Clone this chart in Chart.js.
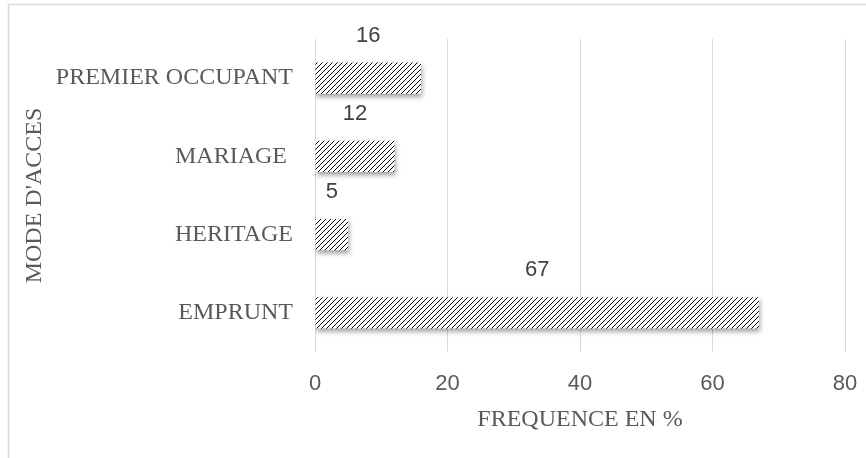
<!DOCTYPE html>
<html>
<head>
<meta charset="utf-8">
<script src="https://cdn.jsdelivr.net/npm/chart.js@4.4.1/dist/chart.umd.min.js"></script>
<style>
  html, body { margin: 0; padding: 0; background: #ffffff; }
  #wrap { position: relative; width: 866px; height: 458px; }
  canvas { display: block; }
</style>
</head>
<body>
<div id="wrap"><canvas id="c" width="866" height="458"></canvas></div>
<script>
// ---- data ----
const categories = ['PREMIER OCCUPANT', 'MARIAGE ', 'HERITAGE', 'EMPRUNT'];
const frequencies = [16, 12, 5, 67];
const xTicks = [0, 20, 40, 60, 80];
const xTitle = 'FREQUENCE EN %';
const yTitle = "MODE D'ACCES";

// ---- hatch pattern ----
function makeHatch() {
  const s = 5;
  const t = document.createElement('canvas');
  t.width = s; t.height = s;
  const g = t.getContext('2d');
  g.fillStyle = '#ffffff';
  g.fillRect(0, 0, s, s);
  g.strokeStyle = '#000000';
  g.lineWidth = 1.0;
  g.beginPath();
  g.moveTo(-1, s + 1); g.lineTo(s + 1, -1);
  g.moveTo(-1, 1); g.lineTo(1, -1);
  g.moveTo(s - 1, s + 1); g.lineTo(s + 1, s - 1);
  g.stroke();
  return g.createPattern(t, 'repeat');
}
const ctx = document.getElementById('c').getContext('2d');
const hatch = makeHatch();

const borderPlugin = {
  id: 'frame',
  beforeDraw(chart) {
    const c = chart.ctx;
    c.save();
    c.fillStyle = '#ffffff';
    c.fillRect(0, 0, chart.width, chart.height);
    c.strokeStyle = '#d9d9d9';
    c.lineWidth = 1.5;
    c.strokeRect(8.5, 4.5, chart.width + 10, chart.height + 10);
    c.restore();
  }
};

const shadowPlugin = {
  id: 'barShadow',
  beforeDatasetDraw(chart) {
    const c = chart.ctx;
    c.save();
    c.shadowColor = 'rgba(0,0,0,0.38)';
    c.shadowBlur = 5;
    c.shadowOffsetX = 1;
    c.shadowOffsetY = 3;
  },
  afterDatasetDraw(chart) {
    chart.ctx.restore();
  }
};

const labelPlugin = {
  id: 'valueLabels',
  afterDatasetsDraw(chart) {
    const c = chart.ctx;
    const meta = chart.getDatasetMeta(0);
    c.save();
    c.fillStyle = '#404040';
    c.font = '22px "Liberation Sans", Arial, sans-serif';
    c.textAlign = 'center';
    c.textBaseline = 'middle';
    meta.data.forEach((bar, i) => {
      const p = bar.getProps(['x', 'y', 'base', 'height'], true);
      const x = (p.x + p.base) / 2;
      const y = p.y - p.height / 2 - 27;
      c.fillText(String(chart.data.datasets[0].data[i]), x, y);
    });
    c.restore();
  }
};

new Chart(ctx, {
  type: 'bar',
  data: {
    labels: categories,
    datasets: [{
      data: frequencies,
      backgroundColor: hatch,
      borderWidth: 0,
      categoryPercentage: 1.0,
      barPercentage: 0.4
    }]
  },
  options: {
    indexAxis: 'y',
    responsive: false,
    animation: false,
    events: [],
    layout: { padding: { left: 8, right: 21, top: 39, bottom: 0 } },
    plugins: {
      legend: { display: false },
      tooltip: { enabled: false },
      title: { display: false }
    },
    scales: {
      x: {
        min: 0, max: 80,
        afterBuildTicks(scale) { scale.ticks = xTicks.map(v => ({ value: v })); },
        afterFit(scale) { scale.height = 106; scale.paddingLeft = 0; scale.paddingRight = 0; },
        grid: { color: '#d9d9d9', lineWidth: 1, drawTicks: false },
        border: { display: false },
        ticks: {
          color: '#595959',
          font: { family: '"Liberation Sans", Arial, sans-serif', size: 22 },
          padding: 19
        },
        title: {
          display: true,
          text: xTitle,
          color: '#595959',
          font: { family: '"Liberation Serif", "Times New Roman", serif', size: 24 },
          padding: { top: 0, bottom: 24 }
        }
      },
      y: {
        afterFit(scale) { scale.width = 307; scale.paddingTop = 0; scale.paddingBottom = 0; },
        grid: { display: false, drawTicks: false },
        border: { display: false },
        ticks: {
          color: '#595959',
          font: { family: '"Liberation Serif", "Times New Roman", serif', size: 24 },
          padding: 22
        },
        title: {
          display: true,
          text: yTitle,
          color: '#595959',
          font: { family: '"Liberation Serif", "Times New Roman", serif', size: 24 },
          padding: { top: 12, bottom: 0 }
        }
      }
    }
  },
  plugins: [borderPlugin, shadowPlugin, labelPlugin]
});
</script>
</body>
</html>
